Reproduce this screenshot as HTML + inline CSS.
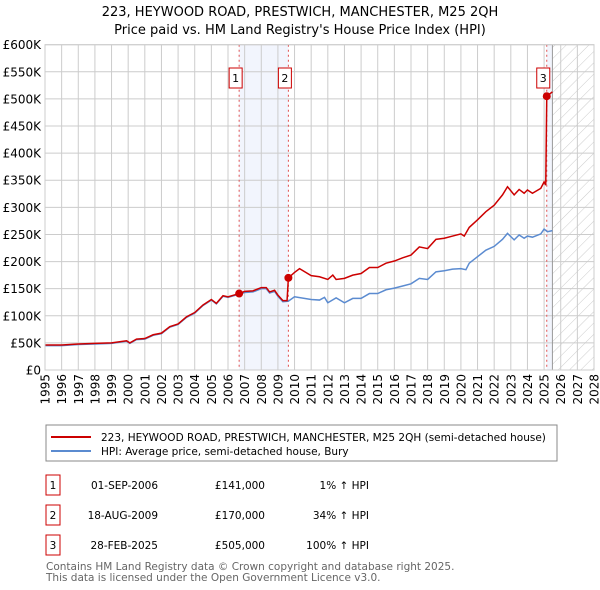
<!DOCTYPE html>
<html><head><meta charset="utf-8"><style>
body{margin:0;background:#fff;width:600px;height:590px;overflow:hidden;font-family:"DejaVu Sans","Liberation Sans",sans-serif}
svg{display:block}
</style></head><body>
<svg id="c" width="600" height="590" xmlns="http://www.w3.org/2000/svg">
<defs><pattern id="hatch" width="8" height="8" patternUnits="userSpaceOnUse" patternTransform="rotate(45)"><line x1="0" y1="0" x2="0" y2="8" stroke="#ccc" stroke-width="1"/></pattern></defs>
<text x="300" y="16" text-anchor="middle" font-size="13">223, HEYWOOD ROAD, PRESTWICH, MANCHESTER, M25 2QH</text>
<text x="300" y="34" text-anchor="middle" font-size="13">Price paid vs. HM Land Registry's House Price Index (HPI)</text>
<g id="plot"></g>
<rect x="46" y="425" width="511" height="36" fill="none" stroke="#888"/>
<line x1="51" y1="437" x2="91" y2="437" stroke="#cc0000" stroke-width="2"/>
<text x="101" y="441" font-size="10.5">223, HEYWOOD ROAD, PRESTWICH, MANCHESTER, M25 2QH (semi-detached house)</text>
<line x1="51" y1="451" x2="91" y2="451" stroke="#5b8bd0" stroke-width="2"/>
<text x="101" y="455" font-size="10.5">HPI: Average price, semi-detached house, Bury</text>
<g font-size="10.5">
<rect x="46" y="475" width="14" height="20" fill="none" stroke="#cc0000"/><text x="53" y="489" text-anchor="middle">1</text>
<text x="158" y="489" text-anchor="end">01-SEP-2006</text><text x="265" y="489" text-anchor="end">£141,000</text><text x="369" y="489" text-anchor="end">1% ↑ HPI</text>
<rect x="46" y="505" width="14" height="20" fill="none" stroke="#cc0000"/><text x="53" y="519" text-anchor="middle">2</text>
<text x="158" y="519" text-anchor="end">18-AUG-2009</text><text x="265" y="519" text-anchor="end">£170,000</text><text x="369" y="519" text-anchor="end">34% ↑ HPI</text>
<rect x="46" y="535" width="14" height="20" fill="none" stroke="#cc0000"/><text x="53" y="549" text-anchor="middle">3</text>
<text x="158" y="549" text-anchor="end">28-FEB-2025</text><text x="265" y="549" text-anchor="end">£505,000</text><text x="369" y="549" text-anchor="end">100% ↑ HPI</text>
</g>
<text x="46" y="570" font-size="10.5" fill="#666">Contains HM Land Registry data © Crown copyright and database right 2025.</text>
<text x="46" y="581" font-size="10.5" fill="#666">This data is licensed under the Open Government Licence v3.0.</text>
</svg>
<script>
const hpiYears=[1995,1996,1997,1998,1999,1999.9,2000.1,2000.5,2001,2001.5,2002,2002.5,2003,2003.5,2004,2004.5,2005,2005.3,2005.7,2006,2006.67,2007,2007.5,2008,2008.3,2008.5,2008.8,2009,2009.3,2009.63,2010,2011,2011.5,2011.8,2012,2012.5,2013,2013.5,2014,2014.5,2015,2015.5,2016,2016.5,2017,2017.5,2018,2018.5,2019,2019.5,2020,2020.3,2020.5,2021,2021.5,2022,2022.5,2022.8,2023.2,2023.5,2023.8,2024,2024.3,2024.8,2025,2025.2,2025.5];
const hpiValues=[45,45,47,48,49,53,49,56,57,64,67,79,84,97,105,119,129,122,136,134,140,143,144,150,150,142,145,136,126,127,135,130,129,134,124,133,124,132,132,141,141,148,151,155,159,169,167,181,183,186,187,185,197,209,221,228,241,252,240,249,243,247,245,251,260,255,257];
const priceYears=[1995,1996,1997,1998,1999,1999.9,2000.1,2000.5,2001,2001.5,2002,2002.5,2003,2003.5,2004,2004.5,2005,2005.3,2005.7,2006,2006.67,2007,2007.5,2008,2008.3,2008.5,2008.8,2009,2009.3,2009.55,2009.63,2010,2010.3,2011,2011.5,2012,2012.3,2012.5,2013,2013.5,2014,2014.5,2015,2015.5,2016,2016.5,2017,2017.5,2018,2018.5,2019,2019.5,2020,2020.2,2020.5,2021,2021.5,2022,2022.5,2022.8,2023.2,2023.5,2023.8,2024,2024.3,2024.8,2025,2025.1,2025.16,2025.5];
const priceValues=[46,46,48,49,50,54,50,57,58,65,68,80,85,98,106,120,130,123,137,135,141,145,146,152,152,144,147,138,128,128,170,180,187,174,172,167,175,167,169,175,178,189,189,197,201,207,212,227,224,241,243,247,251,247,263,277,292,304,323,338,323,333,326,332,326,335,347,341,505,513];
const saleYears=[2006.67,2009.63,2025.16];
const saleValues=[141,170,505];
const saleLabels=["1","2","3"];
const yTicks=[0,50,100,150,200,250,300,350,400,450,500,550,600];
const yTickLabels=["£0","£50K","£100K","£150K","£200K","£250K","£300K","£350K","£400K","£450K","£500K","£550K","£600K"];
const xTicks=[1995,1996,1997,1998,1999,2000,2001,2002,2003,2004,2005,2006,2007,2008,2009,2010,2011,2012,2013,2014,2015,2016,2017,2018,2019,2020,2021,2022,2023,2024,2025,2026,2027,2028];

const L=45,R=594,T=44.7,B=370,dataEnd=2025.5;
const X=y=>L+(y-1995)*(R-L)/33;
const Y=v=>B-v*(B-T)/600;
const NS="http://www.w3.org/2000/svg";
const g=document.getElementById('plot');
function mk(tag,attrs,parent){const e=document.createElementNS(NS,tag);for(const k in attrs)e.setAttribute(k,attrs[k]);(parent||g).appendChild(e);return e;}

let e;
e=mk('rect',{x:X(saleYears[0]),y:T,width:X(saleYears[1])-X(saleYears[0]),height:B-T,fill:'#f2f5fd'});


e=mk('rect',{x:X(saleYears[2]),y:T,width:X(dataEnd)-X(saleYears[2]),height:B-T,fill:'#f2f5fd'});


e=mk('rect',{x:X(dataEnd),y:T,width:R-X(dataEnd),height:B-T,fill:'url(#hatch)'});



yTicks.forEach((t,i)=>{
  e=mk('line',{x1:L,x2:R,y1:Y(t),y2:Y(t),stroke:'#ccc'});
  
  
  e=mk('text',{x:41,y:Y(t)+4.5,'text-anchor':'end','font-size':12});
  e.textContent=yTickLabels[i];
  
  
});
xTicks.forEach(t=>{
  e=mk('line',{x1:X(t),x2:X(t),y1:T,y2:B,stroke:'#ccc'});
  
  
  e=mk('text',{x:0,y:0,'text-anchor':'end','font-size':12,transform:`translate(${X(t)+4.5},374) rotate(-90)`});
  e.textContent=t;
  
  
});
e=mk('line',{x1:X(dataEnd),x2:X(dataEnd),y1:T,y2:B,stroke:'#999'});



saleYears.forEach((s,i)=>{
  e=mk('line',{x1:X(s),x2:X(s),y1:T,y2:B,stroke:'#e05050','stroke-dasharray':'2,3'});
  
  
});

e=mk('polyline',{points:hpiYears.map((y,i)=>X(y)+','+Y(hpiValues[i])).join(' '),fill:'none',stroke:'#5b8bd0','stroke-width':1.5});


e=mk('polyline',{points:priceYears.map((y,i)=>X(y)+','+Y(priceValues[i])).join(' '),fill:'none',stroke:'#cc0000','stroke-width':1.5});



saleYears.forEach((s,i)=>{
  e=mk('circle',{cx:X(s),cy:Y(saleValues[i]),r:4,fill:'#cc0000'});
  
  
  e=mk('rect',{x:X(s)-10,y:68,width:13,height:20,fill:'#fff',stroke:'#cc0000'});
  
  
  e=mk('text',{x:X(s)-3.5,y:82,'text-anchor':'middle','font-size':11});
  e.textContent=saleLabels[i];
  
  
});
e=mk('rect',{x:L,y:T,width:R-L,height:B-T,fill:'none',stroke:'#ccc'});


</script>
</body></html>
